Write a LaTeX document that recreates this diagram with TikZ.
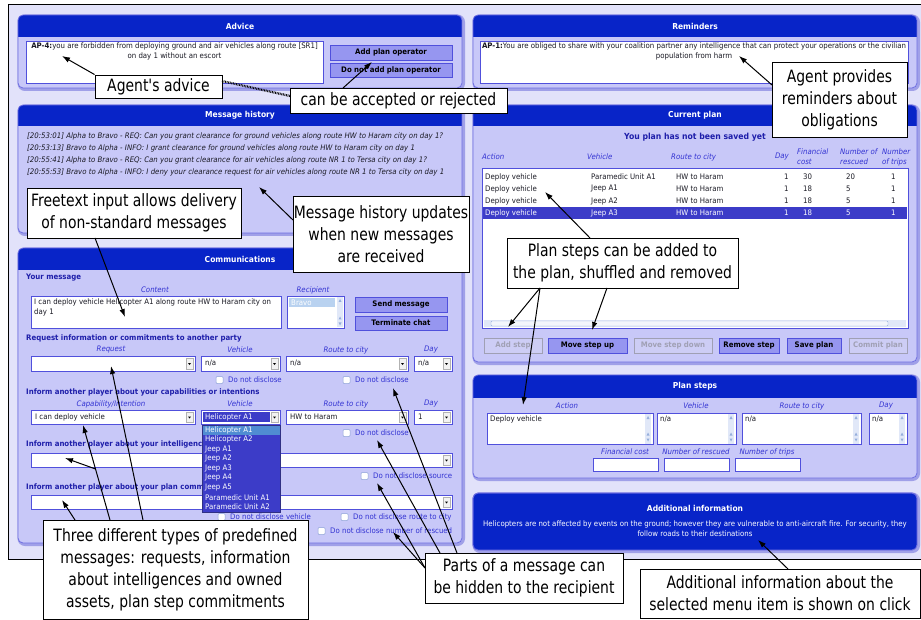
\documentclass[tikz,border=0pt]{standalone}
\usepackage{fontspec}
\setmainfont{DejaVu Sans}[FakeStretch=0.92]
\newfontfamily\cf{DejaVu Sans}[FakeStretch=0.82]
\usetikzlibrary{arrows.meta,calc}
\definecolor{bgl}{RGB}{226,226,250}
\definecolor{pbody}{RGB}{200,200,248}
\definecolor{hdr}{RGB}{8,36,200}
\definecolor{pedge}{RGB}{110,110,225}
\definecolor{pglow}{RGB}{160,160,232}
\definecolor{ubl}{RGB}{50,50,210}
\definecolor{dbl}{RGB}{30,30,170}
\definecolor{fbord}{RGB}{80,80,220}
\definecolor{btnf}{RGB}{150,150,240}
\definecolor{btnd}{RGB}{205,205,245}
\definecolor{selb}{RGB}{60,60,200}
\definecolor{hil}{RGB}{80,140,210}
\definecolor{disg}{RGB}{160,160,180}
\definecolor{scb}{RGB}{225,232,248}
\definecolor{sca}{RGB}{150,175,220}
\definecolor{ckb}{RGB}{140,160,215}
\definecolor{txd}{RGB}{25,25,35}
\definecolor{lsel}{RGB}{185,210,240}
\tikzset{
  ui/.style={font=\fontsize{7.6}{10}\selectfont, inner sep=0pt, text=txd},
  tx/.style={ui, anchor=west},
  lb/.style={ui, font=\fontsize{7.6}{10}\selectfont\itshape, text=ubl},
  sec/.style={ui, anchor=west, font=\fontsize{7.6}{10}\selectfont\bfseries, text=dbl},
  ttl/.style={ui, font=\fontsize{8.2}{10}\selectfont\bfseries, text=white},
  fld/.style={draw=fbord, fill=white, line width=0.6pt},
  btnon/.style={draw=fbord, fill=btnf, line width=0.6pt, inner sep=0pt, text=black,
    font=\fontsize{7.6}{10}\selectfont\bfseries},
  btnoff/.style={draw=disg, fill=btnd, line width=0.6pt, inner sep=0pt, text=disg,
    font=\fontsize{7.6}{10}\selectfont\bfseries},
  call/.style={draw=black, fill=white, line width=0.9pt, inner sep=0pt, align=center,
    font=\cf\fontsize{17}{22}\selectfont},
  arr/.style={-{Latex[length=8pt,width=5.5pt]}, line width=1pt, black},
}
\newcommand\mypanel[7]{%
  \draw[pglow, line width=3pt, rounded corners=6pt] ({#1+1},{#2+1}) rectangle ({#3+1.5},{#4+1.5});
  \fill[pbody, rounded corners=5pt] (#1,#2) rectangle (#3,#4);
  \begin{scope}
    \clip[rounded corners=5pt] (#1,#2) rectangle (#3,#4);
    \fill[hdr] (#1,#2) rectangle (#3,#5);
  \end{scope}
  \draw[pedge, line width=0.8pt, rounded corners=5pt] (#1,#2) rectangle (#3,#4);
  \node[ttl] (#7) at ({(#1+#3)/2},{(#2+#5)/2}) {#6};
}
\newcommand\combo[6]{%
  \draw[fld] (#2,#3) rectangle (#4,#5);
  \draw[gray!60, fill=gray!10, line width=0.4pt] ({#4-9},{#3+2}) rectangle ({#4-2},{#5-2});
  \fill[black] ({#4-7},{(#3+#5)/2-0.5}) -- ({#4-4},{(#3+#5)/2-0.5}) -- ({#4-5.5},{(#3+#5)/2+1.5}) -- cycle;
  \node[tx] (#1) at ({#2+4},{(#3+#5)/2}) {#6};
}
\newcommand\chk[4]{%
  \draw[rounded corners=1pt, draw=ckb, fill=white, line width=0.5pt] (#2,{#3-3.5}) rectangle ({#2+7},{#3+3.5});
  \node[tx, text=ubl] (#1) at ({#2+12},#3) {#4};
}
\newcommand\vscroll[3]{%
  \fill[scb] (#1,#2) rectangle ({#1+6},#3);
  \fill[sca] ({#1+1.5},{#2+5}) -- ({#1+4.5},{#2+5}) -- ({#1+3},{#2+2}) -- cycle;
  \fill[sca] ({#1+1.5},{#3-8}) -- ({#1+4.5},{#3-8}) -- ({#1+3},{#3-11}) -- cycle;
  \fill[sca] ({#1+1.5},{#3-5}) -- ({#1+4.5},{#3-5}) -- ({#1+3},{#3-2}) -- cycle;
}
\begin{document}
\begin{tikzpicture}[x=1pt, y=-1pt]
\useasboundingbox (0,0) rectangle (921,620);
\fill[white] (0,0) rectangle (921,620);
\draw[black, line width=0.8pt, fill=bgl] (8,4) rectangle (930,559);

% ---------------- Advice
\mypanel{18}{15}{462}{88}{37}{Advice}{tAdv}
\draw[fld] (26,41) rectangle (323,83);
\node[ui, align=center, anchor=north] (advtxt) at (174.5,43)
  {\textbf{AP-4:}you are forbidden from deploying ground and air vehicles along route [SR1]\\on day 1 without an escort};
\node[btnon, minimum width=122, minimum height=15] (bAdd) at (391,52.5) {Add plan operator};
\node[btnon, minimum width=122, minimum height=14] (bNo) at (391,70) {Do not add plan operator};

% ---------------- Message history
\mypanel{18}{105}{462}{233}{126}{Message history}{tMsg}
\begin{scope}[every node/.style={tx, font=\fontsize{7.6}{10}\selectfont\itshape}]
\node (m1) at (27,136) {[20:53:01] Alpha to Bravo - REQ: Can you grant clearance for ground vehicles along route HW to Haram city on day 1?};
\node (m2) at (27,148) {[20:53:13] Bravo to Alpha - INFO: I grant clearance for ground vehicles along route HW to Haram city on day 1};
\node (m3) at (27,160) {[20:55:41] Alpha to Bravo - REQ: Can you grant clearance for air vehicles along route NR 1 to Tersa city on day 1?};
\node (m4) at (27,172) {[20:55:53] Bravo to Alpha - INFO: I deny your clearance request for air vehicles along route NR 1 to Tersa city on day 1};
\end{scope}

% ---------------- Communications
\mypanel{18}{248}{462}{543}{270}{Communications}{tCom}
\node[sec] (yourmsg) at (26,278) {Your message};
\node[lb] (lContent) at (155,290) {Content};
\node[lb] (lRecip) at (313,290) {Recipient};
\draw[fld] (31,296) rectangle (281,328);
\node[tx, anchor=north west, align=left] (content) at (34,298.5)
  {I can deploy vehicle Helicopter A1 along route HW to Haram city on\\day 1};
\draw[fld] (287,296) rectangle (344,328);
\fill[lsel] (289,298) rectangle (335,307.5);
\node[tx, text=white] (bravo) at (291,302.8) {Bravo};
\vscroll{337}{297}{327.5}
\node[btnon, minimum width=92, minimum height=15] (bSend) at (401,304.5) {Send message};
\node[btnon, minimum width=92, minimum height=14] (bTerm) at (401,323) {Terminate chat};

\node[sec] (reqsec) at (26,338) {Request information or commitments to another party};
\node[lb] (lReq) at (111,350) {Request};
\node[lb] (lVeh1) at (240,350) {Vehicle};
\node[lb] (lRt1) at (346,350) {Route to city};
\node[lb] (lDay1) at (431,350) {Day};
\combo{cReq}{31}{356}{195}{371}{}
\combo{cVeh1}{201}{356}{280}{371}{n/a}
\combo{cRt1}{286}{356}{408}{371}{n/a}
\combo{cDay1}{414}{356}{452}{371}{n/a}
\chk{k1}{216}{380}{Do not disclose}
\chk{k2}{343}{380}{Do not disclose}

\node[sec] (capsec) at (26,392) {Inform another player about your capabilities or intentions};
\node[lb] (lCap) at (111,404) {Capability/Intention};
\node[lb] (lVeh2) at (240,404) {Vehicle};
\node[lb] (lRt2) at (346,404) {Route to city};
\node[lb] (lDay2) at (431,404) {Day};
\combo{cCap}{31}{410}{195}{424}{I can deploy vehicle}
\combo{cVeh2}{201}{410}{280}{424}{}
\fill[selb] (203,412) rectangle (269.5,422);
\node[tx, text=white] (heli) at (205,417) {Helicopter A1};
\combo{cRt2}{286}{410}{408}{424}{HW to Haram}
\combo{cDay2}{414}{410}{452}{424}{1}
\chk{k3}{343}{433}{Do not disclose}

\node[sec] (intsec) at (26,444) {Inform another player about your intelligence};
\combo{cInt}{31}{453}{452}{467}{}
\chk{k4}{361}{476}{Do not disclose source}
\node[sec] (plansec) at (26,487) {Inform another player about your plan commitments};
\combo{cPlan}{31}{495}{452}{509}{}
\chk{k5}{218}{517}{Do not disclose vehicle}
\chk{k6}{341}{517}{Do not disclose route to city}
\chk{k7}{318}{531}{Do not disclose number of rescued}

% dropdown list
\draw[fill=selb, draw=fbord!60!black, line width=0.5pt] (202,425) rectangle (280,512);
\fill[hil] (202.5,425.5) rectangle (279.5,434.8);
\foreach \t [count=\i] in {Helicopter A1,Helicopter A2,Jeep A1,Jeep A2,Jeep A3,Jeep A4,Jeep A5,Paramedic Unit A1,Paramedic Unit A2}
  \node[tx, text=white] (dd\i) at (205,{420.4+9.6*\i}) {\t};

% ---------------- Reminders
\mypanel{473}{15}{917}{88}{37}{Reminders}{tRem}
\draw[fld] (480,41) rectangle (908,83);
\node[ui, align=center, anchor=north] (remtxt) at (694,43)
  {\textbf{AP-1:}You are obliged to share with your coalition partner any intelligence that can protect your operations or the civilian\\population from harm};

% ---------------- Current plan
\mypanel{473}{105}{917}{362}{126}{Current plan}{tCur}
\node[ui, font=\fontsize{8.4}{10}\selectfont\bfseries, text=dbl] (unsaved) at (695,137) {You plan has not been saved yet};
\node[lb, anchor=west] (hAct) at (482,157) {Action};
\node[lb, anchor=west] (hVeh) at (587,157) {Vehicle};
\node[lb, anchor=west] (hRt) at (671,157) {Route to city};
\node[lb, anchor=east] (hDay) at (789,157) {Day};
\node[lb, anchor=west, align=left] (hCost) at (797,157) {Financial\\cost};
\node[lb, anchor=west, align=left] (hResc) at (840,157) {Number of\\rescued};
\node[lb, anchor=west, align=left] (hTrip) at (882,157) {Number\\of trips};
\draw[fld] (482,168) rectangle (908,328);
\fill[selb] (483,207.5) rectangle (907,219);
\foreach \v/\c/\r [count=\i] in {Paramedic Unit A1/30/20, Jeep A1/18/5, Jeep A2/18/5, Jeep A3/18/5}{
  \ifnum\i=4 \def\tc{white}\else\def\tc{txd}\fi
  \node[tx, text=\tc] (ra\i) at (485,{165+12*\i}) {Deploy vehicle};
  \node[tx, text=\tc] (rv\i) at (591,{165+12*\i}) {\v};
  \node[tx, text=\tc] (rr\i) at (676,{165+12*\i}) {HW to Haram};
  \node[tx, text=\tc] (rd\i) at (784,{165+12*\i}) {1};
  \node[tx, text=\tc] (rc\i) at (803,{165+12*\i}) {\c};
  \node[tx, text=\tc] (rs\i) at (846,{165+12*\i}) {\r};
  \node[tx, text=\tc] (rt\i) at (891,{165+12*\i}) {1};
}
\fill[scb] (484,320) rectangle (906,327);
\draw[sca, fill=white!60!scb, line width=0.4pt, rounded corners=1pt] (491,321) rectangle (888,326);
\node[btnoff, minimum width=58, minimum height=15] (bAddStep) at (513,345.5) {Add step};
\node[btnon, minimum width=79, minimum height=15] (bUp) at (587.5,345.5) {Move step up};
\node[btnoff, minimum width=78, minimum height=15] (bDown) at (673,345.5) {Move step down};
\node[btnon, minimum width=60, minimum height=15] (bRem) at (749,345.5) {Remove step};
\node[btnon, minimum width=54, minimum height=15] (bSave) at (814,345.5) {Save plan};
\node[btnoff, minimum width=58, minimum height=15] (bCommit) at (878,345.5) {Commit plan};

% ---------------- Plan steps
\mypanel{473}{375}{917}{478}{398}{Plan steps}{tPS}
\node[lb] (pAct) at (567,406) {Action};
\node[lb] (pVeh) at (696,406) {Vehicle};
\node[lb] (pRt) at (802,406) {Route to city};
\node[lb] (pDay) at (886,406) {Day};
\draw[fld] (487,413) rectangle (653,444); \vscroll{645}{414}{443.5}
\draw[fld] (657,413) rectangle (736,444); \vscroll{728}{414}{443.5}
\draw[fld] (742,413) rectangle (861,444); \vscroll{853}{414}{443.5}
\draw[fld] (869,413) rectangle (907,444); \vscroll{899}{414}{443.5}
\node[tx] (psA) at (490,419) {Deploy vehicle};
\node[tx] (psV) at (660,419) {n/a};
\node[tx] (psR) at (745,419) {n/a};
\node[tx] (psD) at (872,419) {n/a};
\node[lb] (pCost) at (625,452) {Financial cost};
\node[lb] (pResc) at (696,452) {Number of rescued};
\node[lb] (pTrip) at (767,452) {Number of trips};
\draw[fld] (593,458) rectangle (658,471);
\draw[fld] (664,458) rectangle (729,471);
\draw[fld] (735,458) rectangle (800,471);

% ---------------- Additional information
\mypanel{473}{493}{917}{550}{523}{Additional information}{tAdd}
\begin{scope}
  \clip[rounded corners=5pt] (473,493) rectangle (917,550);
  \fill[hdr] (473,520) rectangle (917,550);
\end{scope}
\draw[pedge, line width=0.8pt, rounded corners=5pt] (473,493) rectangle (917,550);
\node[ui, align=center, text=white, anchor=north] (addtxt) at (695,520.5)
  {Helicopters are not affected by events on the ground; however they are vulnerable to anti-aircraft fire. For security, they\\follow roads to their destinations};

% ---------------- Callouts
\node[call, minimum width=127, minimum height=23] (c1) at (158.5,86.5) {Agent's advice};
\node[call, minimum width=217, minimum height=25] (c2) at (398.5,100.5) {can be accepted or rejected};
\node[call, minimum width=135, minimum height=75] (c3) at (839.5,99.5) {Agent provides\\reminders about\\obligations};
\node[call, minimum width=214, minimum height=50] (c4) at (134,213) {Freetext input allows delivery\\of non-standard messages};
\node[call, minimum width=176, minimum height=76] (c5) at (381,234) {Message history updates\\when new messages\\are received};
\node[call, minimum width=231, minimum height=50] (c6) at (622.5,263) {Plan steps can be added to\\the plan, shuffled and removed};
\node[call, minimum width=265, minimum height=99] (c7) at (175.5,569.5) {Three different types of predefined\\messages: requests, information\\about intelligences and owned\\assets, plan step commitments};
\node[call, minimum width=198, minimum height=50] (c8) at (524,578) {Parts of a message can\\be hidden to the recipient};
\node[call, minimum width=280, minimum height=49] (c9) at (780,593.5) {Additional information about the\\selected menu item is shown on click};

% targets
\coordinate (tAP4) at (62,56);
\coordinate (tBtn) at (372,62);
\coordinate (tRem) at (739,56);
\coordinate (tCont) at (125,317);
\coordinate (tHist) at (259,187);
\coordinate (tRow) at (545,192);
\coordinate (tAddS) at (508,327);
\coordinate (tUp) at (592,330);
\coordinate (tPSA) at (523,405);
\coordinate (tPlanC) at (62,500);
\coordinate (tCapC) at (83,425);
\coordinate (tIntC) at (65,458);
\coordinate (tReqC) at (111,366);
\coordinate (tResc) at (393,532);
\coordinate (tSrc) at (377,483);
\coordinate (tDis2) at (377,440);
\coordinate (tDis1) at (393,388);
\coordinate (tAddI) at (758,540);
% start points on callouts
\coordinate (s2) at (343,88);
\coordinate (s3) at (772,85);
\coordinate (s4) at (95,238);
\coordinate (s5) at (293,220);
\coordinate (s6t) at (590,238);
\coordinate (s6a) at (540,288);
\coordinate (s6b) at (607,288);
\coordinate (s7a) at (75,520);
\coordinate (s7b) at (110,520);
\coordinate (s7c) at (143,520);
\coordinate (br) at ($(s7b)!0.537!(tCapC)$);
\coordinate (s8a) at (425,568);
\coordinate (s8b) at (440,553);
\coordinate (s8c) at (457,553);
\coordinate (s9) at (788,569);
\coordinate (d1) at (222,81);
\coordinate (d2) at (290,96);

\draw[arr] (c1.north west) -- (tAP4);
\draw[line width=2.2pt, dash pattern=on 0.8pt off 0.8pt] (d1) -- (d2);
\draw[arr] (s2) -- (tBtn);
\draw[arr] (s3) -- (tRem);
\draw[arr] (s4) -- (tCont);
\draw[arr] (s5) -- (tHist);
\draw[arr] (s6t) -- (tRow);
\draw[arr] (s6a) -- (tAddS);
\draw[arr] (s6b) -- (tUp);
\draw[arr] (s6a) -- (tPSA);
\draw[arr] (s7a) -- (tPlanC);
\draw[arr] (s7b) -- (tCapC);
\draw[arr] (br) -- (tIntC);
\draw[arr] (s7c) -- (tReqC);
\draw[arr] (s8a) -- (tResc);
\draw[arr] (s8a) -- (tSrc);
\draw[arr] (s8b) -- (tDis2);
\draw[arr] (s8c) -- (tDis1);
\draw[arr] (s9) -- (tAddI);
\end{tikzpicture}
\end{document}
